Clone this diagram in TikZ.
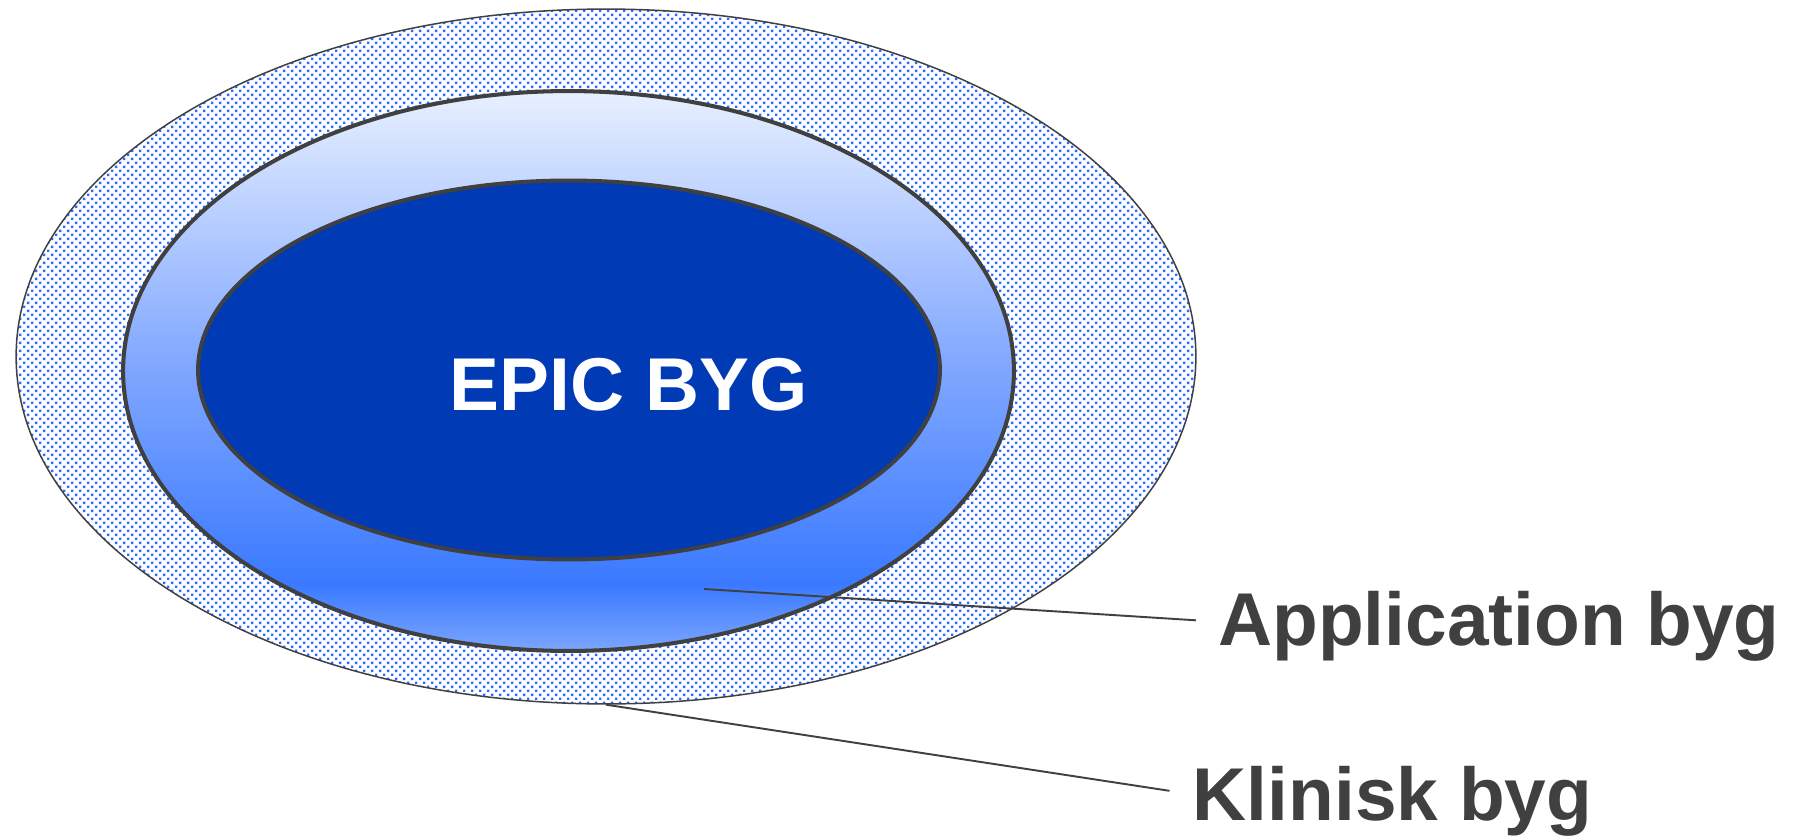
\documentclass[tikz,border=0pt]{standalone}
\usepackage{fontspec}
\setmainfont{Liberation Sans}
\usetikzlibrary{shapes.geometric, patterns}

\definecolor{bygline}{HTML}{404040}
\definecolor{dotblue}{HTML}{2B6BFF}
\definecolor{epicblue}{HTML}{003AB4}
\definecolor{apptop}{HTML}{E8F0FF}
\definecolor{appmid}{HTML}{86ABFF}
\definecolor{appdeep}{HTML}{3A79FF}
\definecolor{appbot}{HTML}{7CA6FF}

\pgfdeclarepatternformonly{bygdots}{\pgfqpoint{0pt}{0pt}}{\pgfqpoint{4.55pt}{4.55pt}}%
  {\pgfqpoint{4.55pt}{4.55pt}}{%
  \pgfpathrectangle{\pgfqpoint{0pt}{0pt}}{\pgfqpoint{1.4pt}{1.4pt}}%
  \pgfpathrectangle{\pgfqpoint{2.275pt}{2.275pt}}{\pgfqpoint{1.4pt}{1.4pt}}%
  \pgfusepath{fill}}

\pgfdeclareverticalshading{appshade}{100bp}{color(0bp)=(appbot); color(25bp)=(appbot);
  color(31bp)=(appdeep); color(52bp)=(appmid); color(75bp)=(apptop); color(100bp)=(apptop)}

\begin{document}
\begin{tikzpicture}[
                x = 0.02cm, y = -0.02cm, % one unit = one pixel
                ring/.style = {ellipse, draw = bygline, inner sep = 0pt},
                leader/.style = {draw = bygline, line width = 1.1pt},
                tag/.style = {text = bygline, inner sep = 0pt, anchor = base west,
                font = \bfseries\fontsize{42.6}{50}\selectfont}
            ]

            \useasboundingbox (0,0) rectangle (1801,835);

            % rings, outside in
            \node (klinisk) [ring, line width = 0.85pt, pattern = bygdots,
            pattern color = dotblue, minimum width = 23.6cm,
            minimum height = 13.9cm] at (606,356.5) {};
            \node (app) [ring, line width = 2.3pt, shading = appshade,
            minimum width = 17.82cm, minimum height = 11.2cm] at (568.5,371) {};
            \node (epic) [ring, line width = 2.3pt, fill = epicblue,
            minimum width = 14.84cm, minimum height = 7.58cm] at (569,370) {};

            \node (epict) [tag, text = white] at (449.5,410) {EPIC BYG};
            \node (appl) [tag] at (1218,645.5) {Application byg};
            \node (klinl) [tag] at (1192.5,820) {Klinisk byg};

            \coordinate (apppt) at (704,589);
            \path[leader] (apppt) -- ([xshift=-0.44cm, yshift=0.12cm]appl.west);
            \path[leader] (klinisk.south) -- ([xshift=-0.46cm, yshift=0.2cm]klinl.west);

        \end{tikzpicture}
\end{document}
